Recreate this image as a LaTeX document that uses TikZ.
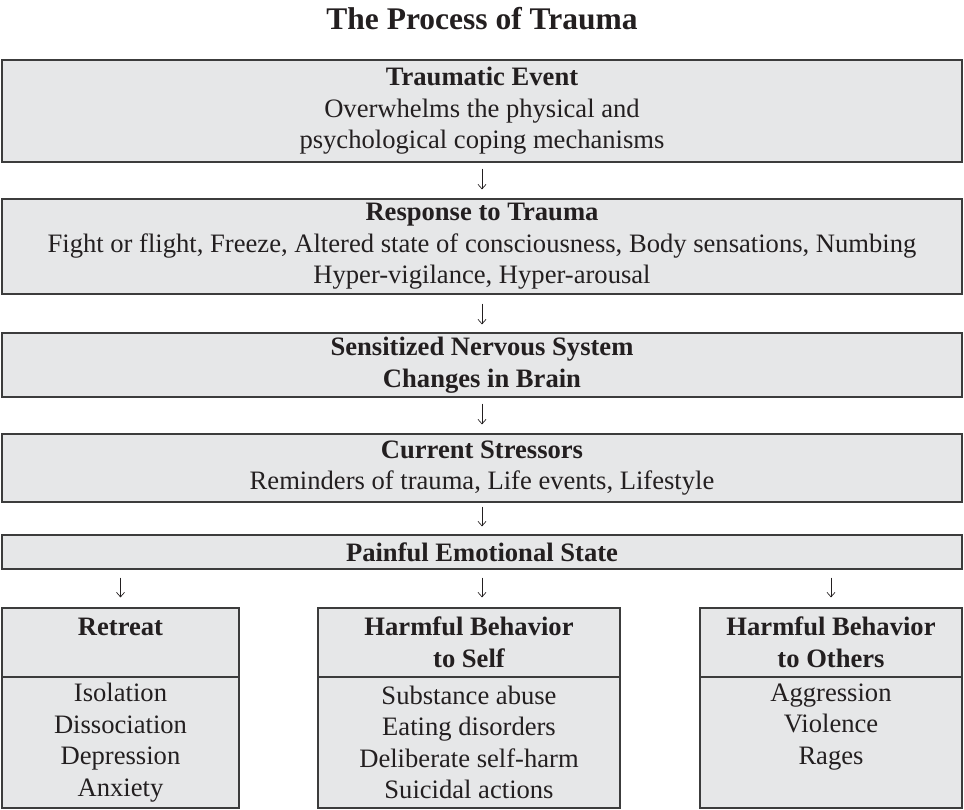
\documentclass[tikz,border=0pt]{standalone}
\usepackage{fontspec}
\setmainfont{Liberation Serif}
\usetikzlibrary{arrows.meta}
\definecolor{boxfill}{HTML}{E6E7E8}
\definecolor{boxline}{HTML}{3C3C3C}
\definecolor{ink}{HTML}{231F20}
\newcommand\txtsize{\fontsize{26.6}{31.5}\selectfont}
\newcommand\ttlsize{\fontsize{31.5}{36}\selectfont}
\begin{document}
\begin{tikzpicture}[x=1pt,y=-1pt,
  box/.style={draw=boxline, fill=boxfill, line width=1.2pt, inner sep=0pt,
    align=center, text=ink, font=\txtsize},
  head/.style={box, font=\txtsize\bfseries},
  arr/.style={draw=ink, line width=0.7pt, -{Straight Barb[length=4.5pt,width=8pt]}}]
\useasboundingbox (0,0) rectangle (964,809);

\node[font=\ttlsize\bfseries, text=ink, inner sep=0pt] (title) at (482,18.5) {The Process of Trauma};

\node[box, minimum width=960pt, minimum height=102pt] (b1) at (482,111)
  {\textbf{Traumatic Event}\\Overwhelms the physical and\\psychological coping mechanisms};
\node[box, minimum width=960pt, minimum height=95pt] (b2) at (482,246.5)
  {\textbf{Response to Trauma}\\Fight or flight, Freeze, Altered state of consciousness, Body sensations, Numbing\\Hyper-vigilance, Hyper-arousal};
\node[head, minimum width=960pt, minimum height=64pt] (b3) at (482,365)
  {Sensitized Nervous System\\Changes in Brain};
\node[box, minimum width=960pt, minimum height=68pt] (b4) at (482,468)
  {\textbf{Current Stressors}\\Reminders of trauma, Life events, Lifestyle};
\node[head, minimum width=960pt, minimum height=34pt] (b5) at (482,552)
  {Painful Emotional State};

% bottom boxes
\node[head, minimum width=237pt, minimum height=69pt] (ret) at (120.5,642.5)
  {Retreat\\\phantom{Retreat}};
\node[box, minimum width=237pt, minimum height=131pt] (retl) at (120.5,742.5)
  {Isolation\\Dissociation\\Depression\\Anxiety};

\node[head, minimum width=302pt, minimum height=69pt] (self) at (469,642.5)
  {Harmful Behavior\\to Self};
\node[box, minimum width=302pt, minimum height=131pt] (selfl) at (469,742.5)
  {Substance abuse\\Eating disorders\\Deliberate self-harm\\Suicidal actions};

\node[head, minimum width=262pt, minimum height=69pt] (oth) at (831,642.5)
  {Harmful Behavior\\to Others};
\node[box, minimum width=262pt, minimum height=131pt] (othl) at (831,742.5)
  {Aggression\\Violence\\Rages\\\phantom{Anxiety}};

% arrows
\draw[arr, shorten <=6pt, shorten >=9pt] (b1.south) -- (b2.north);
\draw[arr, shorten <=9pt, shorten >=8pt] (b2.south) -- (b3.north);
\draw[arr, shorten <=6pt, shorten >=9pt] (b3.south) -- (b4.north);
\draw[arr, shorten <=4pt, shorten >=8pt] (b4.south) -- (b5.north);
\draw[arr, shorten <=8pt, shorten >=10pt] (b5.south -| ret.north) -- (ret.north);
\draw[arr, shorten <=8pt, shorten >=10pt] (b5.south) -- (b5.south |- self.north);
\draw[arr, shorten <=8pt, shorten >=10pt] (b5.south -| oth.north) -- (oth.north);
\end{tikzpicture}
\end{document}
